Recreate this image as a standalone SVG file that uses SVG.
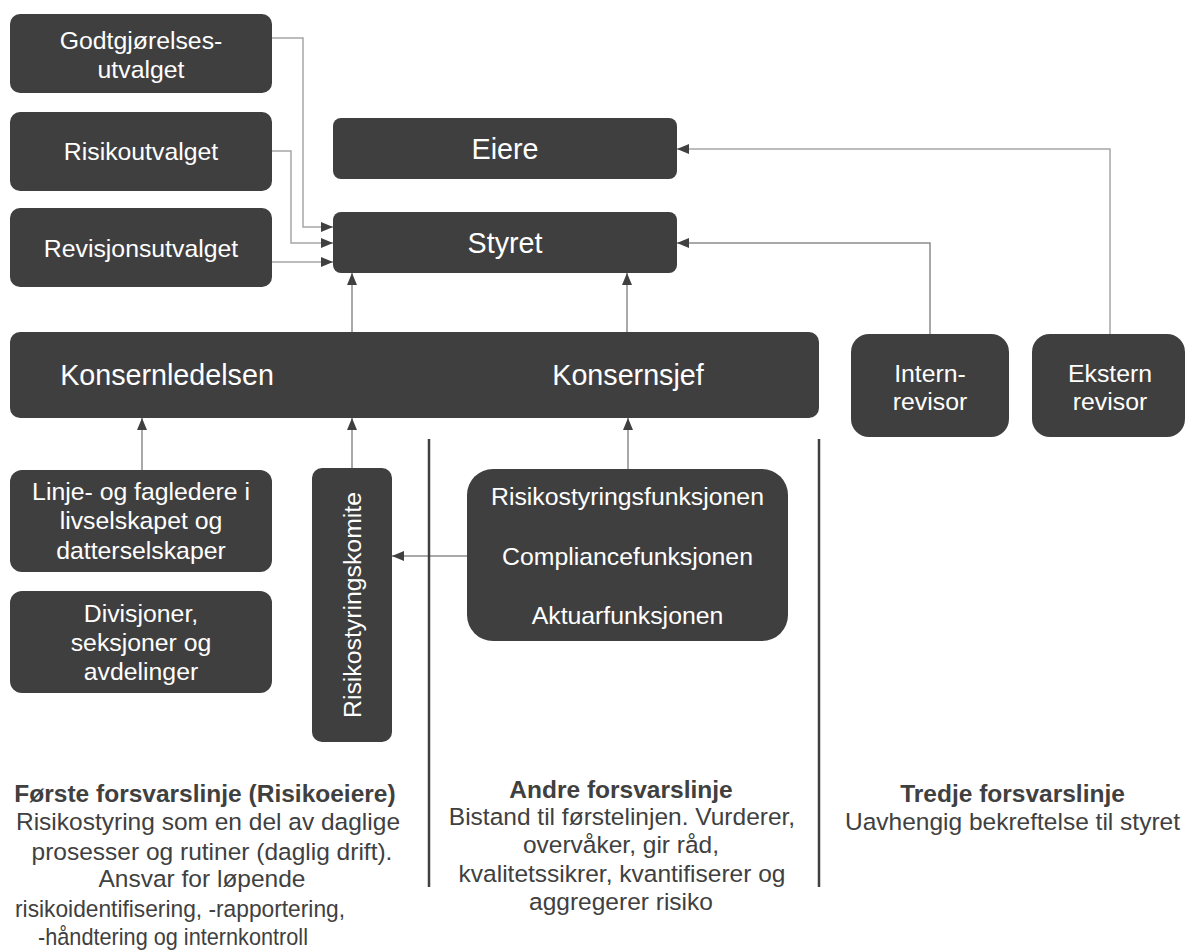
<svg xmlns="http://www.w3.org/2000/svg" width="1187" height="951" viewBox="0 0 1187 951">
<style>
.box{fill:#3f3f3f}
.bt{font-family:"Liberation Sans",Arial,sans-serif;font-size:24.8px;fill:#ffffff;text-anchor:middle}
.big{font-size:28.7px}
.ft{font-family:"Liberation Sans",Arial,sans-serif;font-size:24.5px;fill:#404040;text-anchor:middle}
.fb{font-weight:bold}
.c{fill:none;stroke:#8c8c8c;stroke-width:1.5}
.cl{fill:none;stroke:#a6a6a6;stroke-width:1.5}
.div{stroke:#404040;stroke-width:2.5}
</style>
<defs>
<marker id="ah" viewBox="0 0 12 10" refX="12" refY="5" markerWidth="12" markerHeight="10" markerUnits="userSpaceOnUse" orient="auto">
<path d="M0,0 L12,5 L0,10 Z" fill="#404040"/>
</marker>
</defs>
<rect width="1187" height="951" fill="#ffffff"/>

<g id="connectors">
<polyline class="cl" points="272,38 303,38 303,227 333,227" marker-end="url(#ah)"/>
<polyline class="cl" points="272,151 291,151 291,243 333,243" marker-end="url(#ah)"/>
<polyline class="cl" points="272,262 333,262" marker-end="url(#ah)"/>
<polyline class="c" points="352,332 352,273" marker-end="url(#ah)"/>
<polyline class="c" points="627,332 627,273" marker-end="url(#ah)"/>
<polyline class="cl" points="1110,334 1110,149 677,149" marker-end="url(#ah)"/>
<polyline class="c" points="930,334 930,243 677,243" marker-end="url(#ah)"/>
<polyline class="c" points="142,470 142,418" marker-end="url(#ah)"/>
<polyline class="c" points="352,468 352,418" marker-end="url(#ah)"/>
<polyline class="c" points="628,469 628,418" marker-end="url(#ah)"/>
<polyline class="c" points="467,556 392,556" marker-end="url(#ah)"/>
</g>

<g id="dividers">
<line class="div" x1="429" y1="439" x2="429" y2="887"/>
<line class="div" x1="819" y1="439" x2="819" y2="887"/>
</g>

<g id="godtgjorelsesutvalget">
<rect class="box" x="10" y="14" width="262" height="79" rx="10"/>
<text class="bt" x="141" y="49">Godtgjørelses-</text>
<text class="bt" x="141" y="78">utvalget</text>
</g>
<g id="risikoutvalget">
<rect class="box" x="10" y="112" width="262" height="79" rx="10"/>
<text class="bt" x="141" y="160">Risikoutvalget</text>
</g>
<g id="revisjonsutvalget">
<rect class="box" x="10" y="208" width="262" height="79" rx="10"/>
<text class="bt" x="141" y="257">Revisjonsutvalget</text>
</g>
<g id="eiere">
<rect class="box" x="333" y="118" width="344" height="61" rx="8"/>
<text class="bt big" x="505" y="159">Eiere</text>
</g>
<g id="styret">
<rect class="box" x="333" y="212" width="344" height="61" rx="8"/>
<text class="bt big" x="505" y="253">Styret</text>
</g>
<g id="konsern">
<rect class="box" x="10" y="332" width="809" height="86" rx="10"/>
<text class="bt big" x="167" y="385">Konsernledelsen</text>
<text class="bt big" x="628" y="385">Konsernsjef</text>
</g>
<g id="internrevisor">
<rect class="box" x="851" y="334" width="158" height="103" rx="18"/>
<text class="bt" x="930" y="382">Intern-</text>
<text class="bt" x="930" y="410">revisor</text>
</g>
<g id="eksternrevisor">
<rect class="box" x="1032" y="334" width="153" height="103" rx="18"/>
<text class="bt" x="1110" y="382">Ekstern</text>
<text class="bt" x="1110" y="410">revisor</text>
</g>
<g id="linjeledere">
<rect class="box" x="10" y="470" width="262" height="102" rx="12"/>
<text class="bt" x="141" y="500">Linje- og fagledere i</text>
<text class="bt" x="141" y="529">livselskapet og</text>
<text class="bt" x="141" y="559">datterselskaper</text>
</g>
<g id="divisjoner">
<rect class="box" x="10" y="591" width="262" height="102" rx="12"/>
<text class="bt" x="141" y="622">Divisjoner,</text>
<text class="bt" x="141" y="651">seksjoner og</text>
<text class="bt" x="141" y="680">avdelinger</text>
</g>
<g id="risikostyringskomite">
<rect class="box" x="312" y="468" width="80" height="274" rx="10"/>
<text class="bt" transform="translate(361,605) rotate(-90)">Risikostyringskomite</text>
</g>
<g id="kontrollfunksjoner">
<rect class="box" x="467" y="469" width="321" height="172" rx="26"/>
<text class="bt" x="627.5" y="505">Risikostyringsfunksjonen</text>
<text class="bt" x="627.5" y="565">Compliancefunksjonen</text>
<text class="bt" x="627.5" y="624">Aktuarfunksjonen</text>
</g>

<g id="forste-forsvarslinje">
<text class="ft fb" x="205" y="802">Første forsvarslinje (Risikoeiere)</text>
<text class="ft" x="208" y="830">Risikostyring som en del av daglige</text>
<text class="ft" x="212" y="860">prosesser og rutiner (daglig drift).</text>
<text class="ft" x="202" y="887">Ansvar for løpende</text>
<text class="ft" x="180" y="917" textLength="330" lengthAdjust="spacingAndGlyphs">risikoidentifisering, -rapportering,</text>
<text class="ft" x="173" y="945" textLength="270" lengthAdjust="spacingAndGlyphs">-håndtering og internkontroll</text>
</g>
<g id="andre-forsvarslinje">
<text class="ft fb" x="621" y="798">Andre forsvarslinje</text>
<text class="ft" x="622" y="825">Bistand til førstelinjen. Vurderer,</text>
<text class="ft" x="621" y="853">overvåker, gir råd,</text>
<text class="ft" x="622" y="882">kvalitetssikrer, kvantifiserer og</text>
<text class="ft" x="621" y="910">aggregerer risiko</text>
</g>
<g id="tredje-forsvarslinje">
<text class="ft fb" x="1012.5" y="802">Tredje forsvarslinje</text>
<text class="ft" x="1012.5" y="830">Uavhengig bekreftelse til styret</text>
</g>
</svg>
